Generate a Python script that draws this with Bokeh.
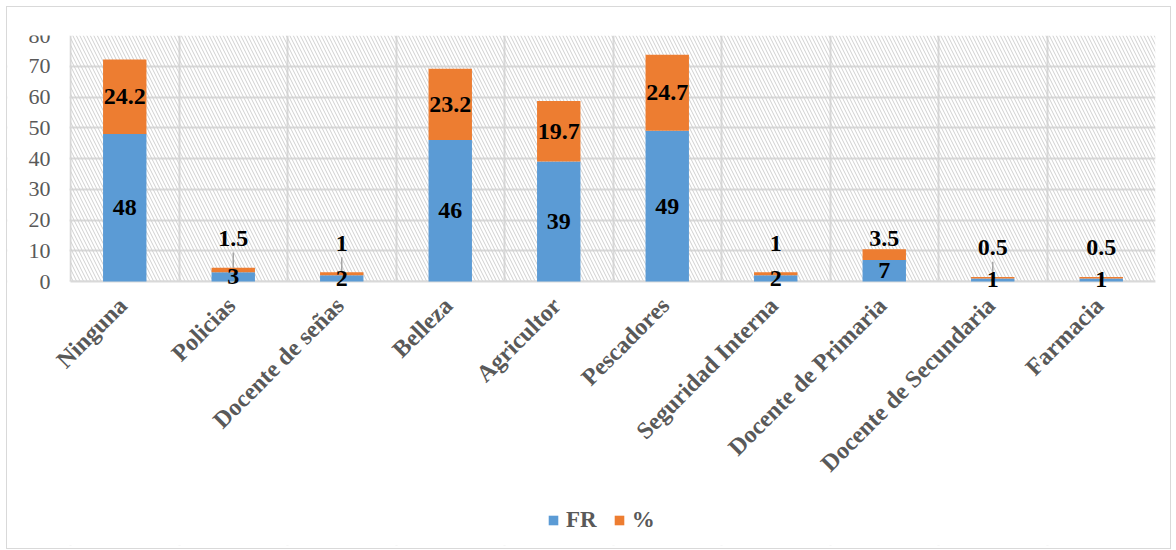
from math import pi
from bokeh.plotting import figure
from bokeh.models import (FixedTicker, Legend, LegendItem, BoxAnnotation,
                          ColumnDataSource, Range1d)
from bokeh.core.properties import value
from bokeh.embed import file_html
from bokeh.resources import INLINE

categories = ["Ninguna", "Policias", "Docente de señas", "Belleza", "Agricultor",
              "Pescadores", "Seguridad Interna", "Docente de Primaria",
              "Docente de Secundaria", "Farmacia"]
fr = [48, 3, 2, 46, 39, 49, 2, 7, 1, 1]
pct = [24.2, 1.5, 1, 23.2, 19.7, 24.7, 1, 3.5, 0.5, 0.5]
fr_labels = ["48", "3", "2", "46", "39", "49", "2", "7", "1", "1"]
pct_labels = ["24.2", "1.5", "1", "23.2", "19.7", "24.7", "1", "3.5", "0.5", "0.5"]
y_ticks = [0, 10, 20, 30, 40, 50, 60, 70, 80]
y_tick_labels = ["0", "10", "20", "30", "40", "50", "60", "70", "80"]
leader = [False, True, True, False, False, False, False, False, True, False]

BLUE = "#5B9BD5"
ORANGE = "#ED7D31"
GREY = "#595959"
GRID = "#d9d9d9"
FONT = "Liberation Serif"

n = len(categories)
xs = [i + 0.5 for i in range(n)]
totals = [a + b for a, b in zip(fr, pct)]

fr_y = [v / 2 for v in fr]
pct_y = []
for f, q, t in zip(fr, pct, totals):
    if q < 5:
        pct_y.append(min(t + 9.5, 14))
    else:
        pct_y.append(f + q / 2)

src = ColumnDataSource(dict(x=xs, fr=fr, pct=pct))

# The frame extends below and left of the plot area so that the category labels,
# value-axis labels and legend (all drawn inside it) are never clipped.
Y_MAX = 80
PLOT_PX = 246          # pixel height of the 0..80 band
FRAME_PX = 510
y_start = -(FRAME_PX - PLOT_PX) / PLOT_PX * Y_MAX
PLOT_W = 1085          # pixel width of the category band
LEFT_PX = 63           # room left of the category band
x_start = -LEFT_PX / (PLOT_W / n)

p = figure(frame_width=PLOT_W + LEFT_PX, frame_height=FRAME_PX,
           x_range=Range1d(x_start, n), y_range=Range1d(y_start, Y_MAX),
           output_backend="svg", toolbar_location=None,
           min_border_left=0, min_border_right=15, min_border_top=28,
           min_border_bottom=3)
p.styles = {"margin-left": "6px", "margin-top": "6px", "border": "1px solid #d9d9d9"}
p.outline_line_color = None
p.background_fill_color = "white"
p.xaxis.visible = False
p.yaxis.visible = False

# hatched plot-area background
p.add_layout(BoxAnnotation(left=0, bottom=0, fill_alpha=0, line_alpha=0,
                           hatch_pattern="left_diagonal_line", hatch_color="#d0d0d0",
                           hatch_alpha=1.0, hatch_scale=7, hatch_weight=1,
                           level="underlay"))
# blank areas below and left of the plot area (hide the grid there)
p.add_layout(BoxAnnotation(top=0, fill_color="white", fill_alpha=1, line_alpha=0,
                           level="underlay"))
p.add_layout(BoxAnnotation(right=-0.01, fill_color="white", fill_alpha=1, line_alpha=0,
                           level="underlay"))

p.xgrid.ticker = FixedTicker(ticks=list(range(n + 1)))
p.xgrid.grid_line_color = GRID
p.xgrid.grid_line_width = 2
p.ygrid.ticker = FixedTicker(ticks=y_ticks)
p.ygrid.grid_line_color = GRID
p.ygrid.grid_line_width = 2

# baseline
p.segment(x0=[0], y0=[0], x1=[n], y1=[0], line_color=GRID, line_width=2)

rs = p.vbar_stack(["fr", "pct"], x="x", width=0.4, color=[BLUE, ORANGE],
                  line_color=None, source=src)

# value-axis labels
p.text(x=[0] * len(y_ticks), y=y_ticks, text=y_tick_labels, text_font=value(FONT),
       text_font_size="22px", text_color=GREY, text_align="right",
       text_baseline="middle", x_offset=-20)

# category labels (rotated 45 degrees, ending under each bar)
p.text(x=xs, y=[0] * n, text=categories, angle=pi / 4, text_font=value(FONT),
       text_font_style="bold", text_font_size="24px", text_color=GREY,
       text_align="right", text_baseline="middle", x_offset=-2, y_offset=20)

# leader lines
lx = [x for x, l in zip(xs, leader) if l]
ly0 = [t for t, l in zip(totals, leader) if l]
ly1 = [y - 4.6 for y, l in zip(pct_y, leader) if l]
p.segment(x0=lx, y0=ly0, x1=lx, y1=ly1, line_color="#a6a6a6", line_width=1.5)

# data labels
p.text(x=xs + xs, y=fr_y + pct_y, text=fr_labels + pct_labels, text_font=value(FONT),
       text_font_style="bold", text_font_size="24px", text_align="center",
       text_baseline="middle", text_color="black")

legend = Legend(items=[LegendItem(label="FR", renderers=[rs[0]]),
                       LegendItem(label="%", renderers=[rs[1]])],
                orientation="horizontal", location=(477 + LEFT_PX, 12),
                label_text_font=FONT, label_text_font_style="bold",
                label_text_font_size="23px", label_text_color=GREY,
                glyph_width=12, glyph_height=12, spacing=16,
                border_line_color=None, background_fill_alpha=0,
                margin=0, padding=1, label_standoff=7)
p.add_layout(legend, "center")

open("out.html", "w").write(file_html(p, INLINE))
